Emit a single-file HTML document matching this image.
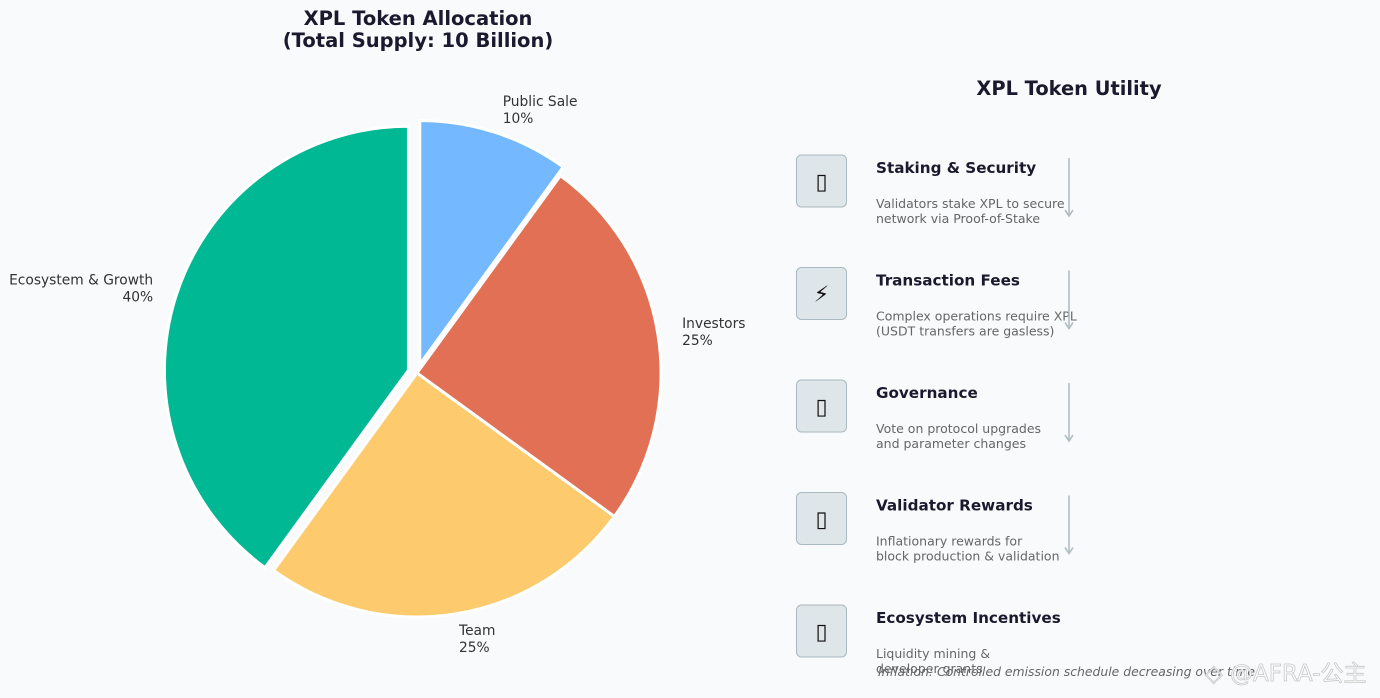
<!DOCTYPE html>
<html><head><meta charset="utf-8"><style>
body{margin:0;background:#f8fafc;}
svg{display:block;font-family:"DejaVu Sans","Liberation Sans","Noto Sans CJK SC",sans-serif;}
</style></head><body>
<svg id="c" width="1380" height="698" viewBox="0 0 1380 698">
<rect width="1380" height="698" fill="#f8fafc"/>
<text x="418" y="25" text-anchor="middle" font-size="19.5" font-weight="bold" fill="#1a1a2e">XPL Token Allocation</text>
<text x="418" y="47" text-anchor="middle" font-size="19.5" font-weight="bold" fill="#1a1a2e">(Total Supply: 10 Billion)</text>
<g id="pie"></g>
<text x="1069" y="95" text-anchor="middle" font-size="19.4" font-weight="bold" fill="#1a1a2e">XPL Token Utility</text>
<g id="util"></g>
<text x="878" y="676" font-size="12.4" font-style="italic" fill="#666">Inflation: Controlled emission schedule decreasing over time</text>
<text x="1205" y="681" font-size="23" fill="#ffffff" stroke="#c8c8c8" stroke-width="0.8">◇ @AFRA-公主</text>
</svg>
<script>
const labels=["Ecosystem & Growth","Team","Investors","Public Sale"];
const values=[40,25,25,10];
const colors=["#00b894","#fdcb6e","#e17055","#74b9ff"];
const explode=[9,0,0,9];
const utilTitles=["Staking & Security","Transaction Fees","Governance","Validator Rewards","Ecosystem Incentives"];
const utilDesc=[["Validators stake XPL to secure","network via Proof-of-Stake"],["Complex operations require XPL","(USDT transfers are gasless)"],["Vote on protocol upgrades","and parameter changes"],["Inflationary rewards for","block production & validation"],["Liquidity mining &","developer grants"]];
const utilIcons=["\u25AF","\u26A1","\u25AF","\u25AF","\u25AF"];
const NS="http://www.w3.org/2000/svg";
const cx=417,cy=373,R=244;
const pie=document.getElementById('pie');
const total=values.reduce((a,b)=>a+b,0);
let a0=90;
values.forEach((v,i)=>{
  const a1=a0+v/total*360, mid=(a0+a1)/2*Math.PI/180;
  const ox=cx+explode[i]*Math.cos(mid), oy=cy-explode[i]*Math.sin(mid);
  const r0=a0*Math.PI/180,r1=a1*Math.PI/180;
  const x0=ox+R*Math.cos(r0),y0=oy-R*Math.sin(r0),x1=ox+R*Math.cos(r1),y1=oy-R*Math.sin(r1);
  const p=document.createElementNS(NS,'path');
  p.setAttribute('d',`M${ox},${oy}L${x0},${y0}A${R},${R} 0 ${(a1-a0)>180?1:0} 0 ${x1},${y1}Z`);
  p.setAttribute('fill',colors[i]);p.setAttribute('stroke','#fff');p.setAttribute('stroke-width','3');
  
  
  pie.appendChild(p);
  const lr=R*1.1+explode[i], lx=cx+lr*Math.cos(mid), ly=cy-lr*Math.sin(mid);
  const anchor=Math.cos(mid)<0?'end':'start';
  [labels[i],v+'%'].forEach((s,k)=>{
    const t=document.createElementNS(NS,'text');
    t.setAttribute('x',lx);t.setAttribute('y',ly-3+k*17);t.setAttribute('text-anchor',anchor);
    t.setAttribute('font-size','13.8');t.setAttribute('fill','#333');t.textContent=s;
    
    
    pie.appendChild(t);
  });
  a0=a1;
});
const util=document.getElementById('util');
utilTitles.forEach((s,i)=>{
  const y=155+i*112.5;
  const g=document.createElementNS(NS,'g');
  
  
  g.innerHTML=`<rect x="796.5" y="${y}" width="50" height="52" rx="5" fill="#dfe6e9" stroke="#aab8c0" stroke-width="1"/>
<text x="821.5" y="${y+34}" text-anchor="middle" font-size="22" fill="#111">${utilIcons[i]}</text>
<text x="876" y="${y+18}" font-size="15.2" font-weight="bold" fill="#1a1a2e"></text>
<text x="876" y="${y+53}" font-size="12.5" fill="#666"></text>
<text x="876" y="${y+68}" font-size="12.5" fill="#666"></text>`+(i<4?`<line x1="1069" y1="${y+3}" x2="1069" y2="${y+60}" stroke="#b2bec3" stroke-width="1.6"/><path d="M1065,${y+55}L1069,${y+61}L1073,${y+55}" fill="none" stroke="#b2bec3" stroke-width="1.6"/>`:'');
  const ts=g.querySelectorAll('text');
  ts[1].textContent=s;ts[2].textContent=utilDesc[i][0];ts[3].textContent=utilDesc[i][1];
  util.appendChild(g);
});
</script>
</body></html>
